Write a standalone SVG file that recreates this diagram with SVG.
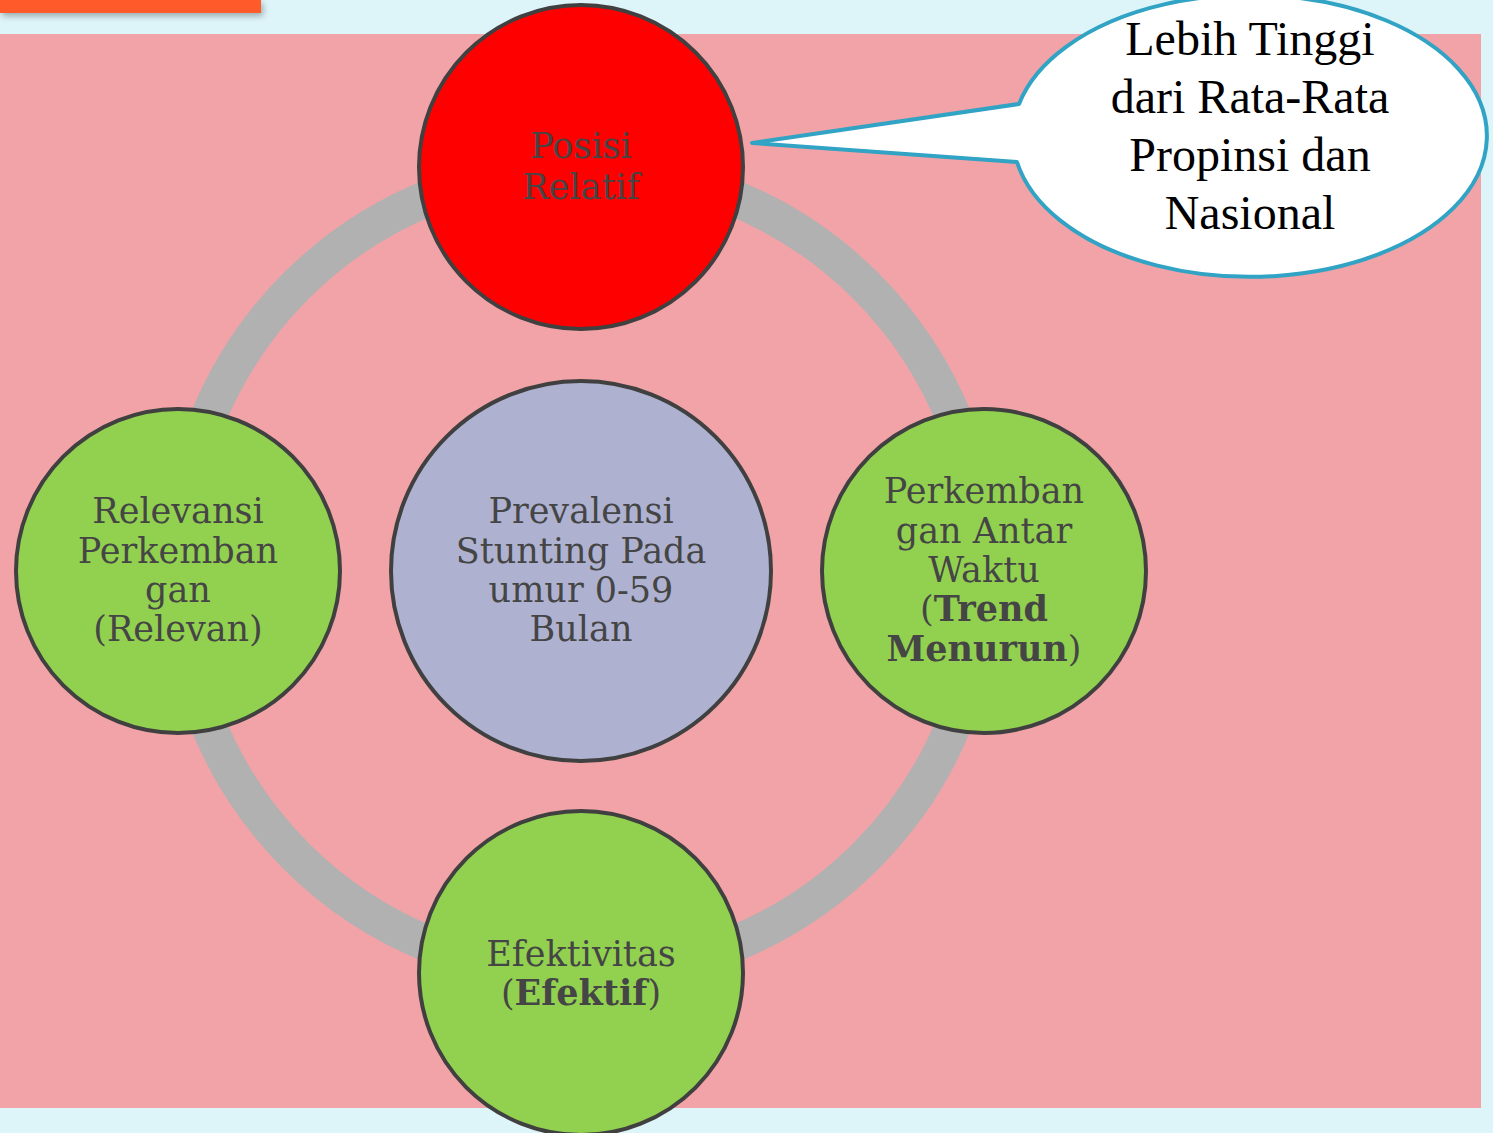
<svg xmlns="http://www.w3.org/2000/svg" width="1493" height="1133" viewBox="0 0 1493 1133">
<defs>
<filter id="sh" x="-10%" y="-50%" width="130%" height="300%"><feDropShadow dx="2" dy="3" stdDeviation="3" flood-color="#000" flood-opacity="0.3"/></filter>
</defs>
<style>
.node{stroke:#404040;stroke-width:4}
.lbl{font-family:"DejaVu Serif",serif;font-size:35px;fill:#454545;text-anchor:middle}
.b{font-weight:bold}
.call{font-family:"Liberation Serif",serif;font-size:48px;fill:#000;text-anchor:middle}
</style>
<rect width="1493" height="1133" fill="#DDF4F9"/>
<rect x="0" y="0" width="261" height="13" fill="#FF5A2C" filter="url(#sh)"/>
<rect x="0" y="34" width="1481" height="1074" fill="#F2A3A7"/>
<g id="connectors">
<circle cx="581" cy="571" r="403" fill="none" stroke="#B1B1B1" stroke-width="36"/>
</g>
<g id="center">
<circle class="node" cx="581" cy="571" r="190" fill="#AEB2D0"/>
<text class="lbl" x="581" y="523">Prevalensi</text>
<text class="lbl" x="581" y="563">Stunting Pada</text>
<text class="lbl" x="581" y="602">umur 0-59</text>
<text class="lbl" x="581" y="641">Bulan</text>
</g>
<g id="top">
<circle class="node" cx="581" cy="167" r="162" fill="#FF0000"/>
<text class="lbl" x="581" y="158">Posisi</text>
<text class="lbl" x="581" y="199">Relatif</text>
</g>
<g id="left">
<circle class="node" cx="178" cy="571" r="162" fill="#92D050"/>
<text class="lbl" x="178" y="523">Relevansi</text>
<text class="lbl" x="178" y="563">Perkemban</text>
<text class="lbl" x="178" y="602">gan</text>
<text class="lbl" x="178" y="641">(Relevan)</text>
</g>
<g id="right">
<circle class="node" cx="984" cy="571" r="162" fill="#92D050"/>
<text class="lbl" x="984" y="503">Perkemban</text>
<text class="lbl" x="984" y="543">gan Antar</text>
<text class="lbl" x="984" y="582">Waktu</text>
<text class="lbl" x="984" y="621">(<tspan class="b">Trend</tspan></text>
<text class="lbl" x="984" y="661"><tspan class="b">Menurun</tspan>)</text>
</g>
<g id="bottom">
<circle class="node" cx="581" cy="973" r="162" fill="#92D050"/>
<text class="lbl" x="581" y="966">Efektivitas</text>
<text class="lbl" x="581" y="1005">(<tspan class="b">Efektif</tspan>)</text>
</g>
<g id="callout">
<path d="M1019,104 A237,141 0 1 1 1017,162 L752,143 Z" fill="#FFFFFF" stroke="#31A3C4" stroke-width="4" stroke-linejoin="round"/>
<text class="call" x="1250" y="55">Lebih Tinggi</text>
<text class="call" x="1250" y="113">dari Rata-Rata</text>
<text class="call" x="1250" y="171">Propinsi dan</text>
<text class="call" x="1250" y="229">Nasional</text>
</g>
</svg>
